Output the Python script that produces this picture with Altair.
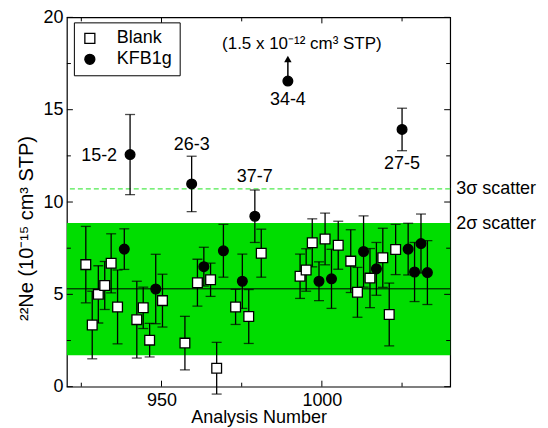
import altair as alt
import pandas as pd

# ---- data ----
blank_x = [926.4, 928.4, 930.3, 932.3, 934.3, 936.3, 942.3, 944.3, 946.3, 950.3,
           957.3, 961.2, 965.3, 967.2, 973.1, 977.2, 981.1, 993.2, 995.1, 997.0,
           1001.0, 1005.1, 1009.0, 1011.1, 1015.0, 1019.0, 1021.0, 1023.0]
blank_y = [6.61, 3.34, 5.00, 5.48, 6.68, 4.32, 3.63, 4.27, 2.52, 4.66,
           2.36, 5.63, 5.79, 1.00, 4.32, 3.80, 7.23, 5.98, 6.32, 7.79,
           8.00, 7.66, 6.80, 5.11, 5.88, 6.98, 3.91, 7.43]
blank_err = [2.07, 1.83, 1.55, 1.30, 1.60, 2.00, 2.08, 1.12, 0.91, 1.43,
             1.45, 1.27, 0.90, 1.40, 0.95, 1.46, 1.30, 1.20, 1.15, 1.30,
             1.40, 1.30, 1.70, 1.35, 1.60, 1.60, 1.70, 1.36]

kfb_x = [938.4, 940.2, 948.2, 959.4, 963.2, 969.3, 975.2, 979.1, 989.4, 999.1,
         1003.0, 1013.0, 1017.0, 1025.0, 1026.9, 1028.9, 1030.9, 1032.9]
kfb_y = [7.45, 12.57, 5.29, 10.98, 6.50, 7.36, 5.71, 9.23, 16.55, 5.71,
         5.84, 7.32, 6.38, 13.93, 7.45, 6.21, 7.75, 6.18]
kfb_err = [1.10, 2.17, 1.88, 1.50, 1.05, 1.43, 1.47, 1.42, None, 1.05,
           1.60, 1.93, 1.43, 1.15, 1.40, 1.60, 1.60, 1.73]

series_names = ["Blank", "KFB1g"]

# labelled KFB1g samples (index into kfb arrays)
label_text = ["15-2", "26-3", "37-7", "34-4", "27-5"]
label_idx = [1, 3, 7, 8, 13]

# off-scale sample arrow (34-4) and its note
arrow_idx = 8
arrow_top = 17.75
note_text = "(1.5 x 10\u207b\u00b9\u00b2 cm\u00b3 STP)"
note_y = 18.57

# scatter statistics
mean_val = 5.30
sigma2_lo = 1.70
sigma2_hi = 8.87
sigma3_hi = 10.71

x_domain = [920.5, 1040]
y_domain = [0, 20]
x_major = [950, 1000]
x_minor = [925, 975, 1025]
y_major = [0, 5, 10, 15, 20]
y_minor = [2.5, 7.5, 12.5, 17.5]

y_title = "\u00b2\u00b2Ne (10\u207b\u00b9\u2075 cm\u00b3 STP)"

# ---- build tables ----
pts = pd.DataFrame({
    "x": blank_x + kfb_x,
    "y": blank_y + kfb_y,
    "err": blank_err + kfb_err,
    "series": [series_names[0]] * len(blank_x) + [series_names[1]] * len(kfb_x),
})
errs = pts.dropna(subset=["err"]).copy()
errs["lo"] = errs["y"] - errs["err"]
errs["hi"] = errs["y"] + errs["err"]

labels = pd.DataFrame({
    "text": label_text,
    "x": [kfb_x[i] for i in label_idx],
    "y": [kfb_y[i] for i in label_idx],
})
arrow = pd.DataFrame({"x": [kfb_x[arrow_idx]], "y": [kfb_y[arrow_idx]], "top": [arrow_top],
                      "note": [note_text], "ny": [note_y]})
stats = pd.DataFrame({"mean": [mean_val], "lo": [sigma2_lo], "hi": [sigma2_hi], "s3": [sigma3_hi],
                      "t2": ["2\u03c3 scatter"], "t3": ["3\u03c3 scatter"]})

W, H = 384, 370
FONT = "Liberation Sans"

xs = alt.Scale(domain=x_domain, nice=False, zero=False)
ys = alt.Scale(domain=y_domain, nice=False, zero=False)

X = alt.X("x:Q", scale=xs, axis=alt.Axis(values=x_major, format="d", title="Analysis Number",
                                          labelPadding=5, titleY=36, titleBaseline="alphabetic"))
YAX = alt.Axis(values=y_major, title=y_title, labelPadding=4, titleX=-30, titleY=211,
               titleBaseline="bottom", titleAlign="center", titleFontSize=20)

base_stats = alt.Chart(stats)
band = base_stats.mark_rect(color="#00DD00").encode(
    x=alt.value(0), x2=alt.value(W),
    y=alt.Y("lo:Q", scale=ys, axis=YAX),
    y2="hi:Q")
mean_rule = base_stats.mark_rule(color="black", strokeWidth=1).encode(y=alt.Y("mean:Q", scale=ys))
s3_rule = base_stats.mark_rule(color="#4FEA4F", strokeWidth=1.3, strokeDash=[5, 3]).encode(
    y=alt.Y("s3:Q", scale=ys))
t3 = base_stats.mark_text(align="left", baseline="middle", dx=6, font=FONT, fontSize=18,
                          color="black").encode(x=alt.value(W), y=alt.Y("s3:Q", scale=ys), text="t3:N")
t2 = base_stats.mark_text(align="left", baseline="middle", dx=6, dy=1, font=FONT, fontSize=18,
                          color="black").encode(x=alt.value(W), y=alt.Y("hi:Q", scale=ys), text="t2:N")

# error bars
ebase = alt.Chart(errs)
stems = ebase.mark_rule(color="black", strokeWidth=1.3).encode(
    x=X, y=alt.Y("lo:Q", scale=ys), y2="hi:Q")
cap_lo = ebase.mark_tick(orient="horizontal", color="black", size=10, thickness=1.3).encode(
    x=alt.X("x:Q", scale=xs), y=alt.Y("lo:Q", scale=ys))
cap_hi = ebase.mark_tick(orient="horizontal", color="black", size=10, thickness=1.3).encode(
    x=alt.X("x:Q", scale=xs), y=alt.Y("hi:Q", scale=ys))

# arrow for off-scale point
abase = alt.Chart(arrow)
arrow_line = abase.mark_rule(color="black", strokeWidth=1.5).encode(
    x=alt.X("x:Q", scale=xs), y=alt.Y("y:Q", scale=ys), y2="top:Q")
arrow_head = abase.mark_point(shape="triangle-up", filled=True, color="black", size=55, opacity=1).encode(
    x=alt.X("x:Q", scale=xs), y=alt.Y("top:Q", scale=ys))
note = abase.mark_text(align="center", baseline="middle", dx=14, font=FONT, fontSize=17,
                       color="black").encode(x=alt.X("x:Q", scale=xs), y=alt.Y("ny:Q", scale=ys), text="note:N")

# points
leg = alt.Legend(title=None, orient="none", legendX=7, legendY=5, strokeColor="black",
                 fillColor="white", padding=7, labelFont=FONT, labelFontSize=18,
                 labelColor="black", symbolSize=100, symbolStrokeWidth=1.3,
                 labelOffset=18, rowPadding=3)
points = alt.Chart(pts).mark_point(filled=True, strokeWidth=1.3, opacity=1, size=95).encode(
    x=alt.X("x:Q", scale=xs), y=alt.Y("y:Q", scale=ys),
    shape=alt.Shape("series:N", scale=alt.Scale(domain=series_names, range=["square", "circle"]), legend=leg),
    fill=alt.Fill("series:N", scale=alt.Scale(domain=series_names, range=["white", "black"]), legend=leg),
    stroke=alt.Stroke("series:N", scale=alt.Scale(domain=series_names, range=["black", "black"]), legend=leg),
)

# labels
lbase = alt.Chart(labels)
def lab(names, **kw):
    return lbase.transform_filter(alt.FieldOneOfPredicate(field="text", oneOf=names)).mark_text(
        font=FONT, fontSize=18, color="black", **kw).encode(
        x=alt.X("x:Q", scale=xs), y=alt.Y("y:Q", scale=ys), text="text:N")

lab_left = lab(["15-2"], align="right", baseline="middle", dx=-13, dy=1)
lab_above = lab(["26-3", "37-7"], align="center", baseline="alphabetic", dy=-34)
lab_below1 = lab(["34-4"], align="center", baseline="top", dy=10)
lab_below2 = lab(["27-5"], align="center", baseline="top", dy=26)

# inward ticks on all four sides
ym = alt.Chart(pd.DataFrame({"v": y_major}))
yn = alt.Chart(pd.DataFrame({"v": y_minor}))
xm = alt.Chart(pd.DataFrame({"v": x_major}))
xn = alt.Chart(pd.DataFrame({"v": x_minor}))
tk = dict(color="black", strokeWidth=1)
ticks = [
    ym.mark_rule(**tk).encode(y=alt.Y("v:Q", scale=ys), x=alt.value(0), x2=alt.value(6)),
    ym.mark_rule(**tk).encode(y=alt.Y("v:Q", scale=ys), x=alt.value(W), x2=alt.value(W - 6)),
    yn.mark_rule(**tk).encode(y=alt.Y("v:Q", scale=ys), x=alt.value(0), x2=alt.value(4)),
    yn.mark_rule(**tk).encode(y=alt.Y("v:Q", scale=ys), x=alt.value(W), x2=alt.value(W - 4)),
    xm.mark_rule(**tk).encode(x=alt.X("v:Q", scale=xs), y=alt.value(H), y2=alt.value(H - 6)),
    xm.mark_rule(**tk).encode(x=alt.X("v:Q", scale=xs), y=alt.value(0), y2=alt.value(6)),
    xn.mark_rule(**tk).encode(x=alt.X("v:Q", scale=xs), y=alt.value(H), y2=alt.value(H - 4)),
    xn.mark_rule(**tk).encode(x=alt.X("v:Q", scale=xs), y=alt.value(0), y2=alt.value(4)),
]

chart = alt.layer(
    band, mean_rule, s3_rule, t3, t2,
    stems, cap_lo, cap_hi, arrow_line, arrow_head, note,
    points, lab_left, lab_above, lab_below1, lab_below2,
    *ticks,
).properties(
    width=W, height=H,
    autosize=alt.AutoSizeParams(type="none"),
    padding={"left": 59, "top": 9, "right": 90, "bottom": 40},
).configure_view(
    stroke="black", strokeWidth=1.2
).configure_axis(
    labelFont=FONT, labelFontSize=18, labelColor="black",
    titleFont=FONT, titleFontSize=18, titleColor="black", titleFontWeight="normal",
    grid=False, domain=False, ticks=False,
)

chart.save("out.html", embed_options={"renderer": "svg", "actions": False})
